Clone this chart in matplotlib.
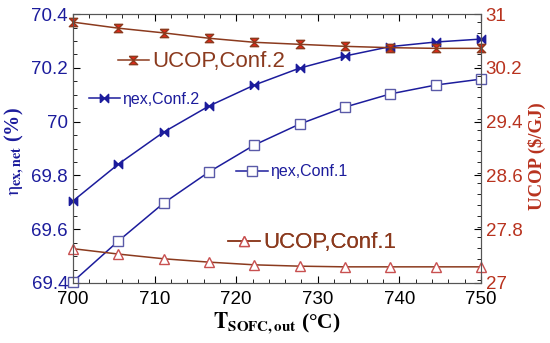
import matplotlib
matplotlib.use("Agg")
import matplotlib.pyplot as plt
from matplotlib.ticker import MultipleLocator

plt.rcParams['font.family'] = ['Liberation Sans', 'DejaVu Sans']
plt.rcParams['mathtext.fontset'] = 'stix'

# data
t_sofc = [700, 705.56, 711.11, 716.67, 722.22, 727.78, 733.33, 738.89, 744.44, 750]
eta_conf2 = [69.705, 69.842, 69.961, 70.058, 70.136, 70.199, 70.244, 70.279, 70.296, 70.307]
eta_conf1 = [69.405, 69.556, 69.697, 69.813, 69.913, 69.991, 70.054, 70.103, 70.136, 70.158]
ucop_conf2 = [30.88, 30.79, 30.72, 30.64, 30.58, 30.55, 30.52, 30.50, 30.49, 30.49]
ucop_conf1 = [27.51, 27.43, 27.36, 27.31, 27.27, 27.25, 27.24, 27.24, 27.24, 27.24]

blue = '#1c1c9c'
brown = '#8b3a1e'
red_txt = '#b8321e'

bowtie = [(-1, -1), (-1, 1), (0, 0), (1, 1), (1, -1), (0, 0), (-1, -1)]
hourglass = [(-1, 1), (1, 1), (0, 0), (1, -1), (-1, -1), (0, 0), (-1, 1)]

fig = plt.figure(figsize=(5.5, 3.43), dpi=100)
ax = fig.add_axes([0.1327, 0.175, 0.7418, 0.784])
ax2 = ax.twinx()

l_e2, = ax.plot(t_sofc, eta_conf2, color=blue, lw=1.1, marker=bowtie, ms=6,
                mfc=blue, mec=blue, clip_on=False)
l_e1, = ax.plot(t_sofc, eta_conf1, color=blue, lw=1.1, marker='s', ms=6.5,
                mfc='white', mec='#5a5aa8', mew=1.0, clip_on=False)
l_u2, = ax2.plot(t_sofc, ucop_conf2, color=brown, lw=1.1, marker=hourglass, ms=6,
                 mfc='#e02818', mec=brown, clip_on=False)
l_u1, = ax2.plot(t_sofc, ucop_conf1, color=brown, lw=1.1, marker='^', ms=6.5,
                 mfc='white', mec='#c85050', mew=1.0, clip_on=False)

ax.set_xlim(700, 750)
ax.set_ylim(69.4, 70.4)
ax2.set_ylim(27, 31)

ax.xaxis.set_major_locator(MultipleLocator(10))
ax.xaxis.set_minor_locator(MultipleLocator(2))
ax.yaxis.set_minor_locator(MultipleLocator(0.05))
ax2.yaxis.set_minor_locator(MultipleLocator(0.16))
ax.set_yticks([69.4, 69.6, 69.8, 70, 70.2, 70.4])
ax.set_yticklabels(['69.4', '69.6', '69.8', '70', '70.2', '70.4'])
ax2.set_yticks([27, 27.8, 28.6, 29.4, 30.2, 31])
ax2.set_yticklabels(['27', '27.8', '28.6', '29.4', '30.2', '31'])

ax.tick_params(axis='x', which='both', direction='in', top=True, labelsize=13.5, pad=6)
ax.tick_params(axis='x', which='major', length=5)
ax.tick_params(axis='x', which='minor', length=3)
ax.tick_params(axis='y', which='both', direction='in', labelsize=13.5, labelcolor=blue)
ax.tick_params(axis='y', which='major', length=5)
ax.tick_params(axis='y', which='minor', length=3)
ax2.tick_params(axis='y', which='both', direction='in', labelsize=13.5, labelcolor=red_txt)
ax2.tick_params(axis='y', which='major', length=5)
ax2.tick_params(axis='y', which='minor', length=3)

for a in (ax, ax2):
    for s in a.spines.values():
        s.set_color('#555555')
        s.set_linewidth(0.8)

ax.set_xlabel(r'$\mathbf{T_{SOFC,out}}$ (°C)', fontsize=15.5, fontweight='bold',
              family='Liberation Serif', labelpad=2)
ax.set_ylabel(r'$\mathrm{\eta}_{\mathbf{ex,net}}$ (%)', fontsize=14.5, fontweight='bold',
              family='Liberation Serif', color=blue)
ax.yaxis.set_label_coords(-0.112, 0.49)
ax2.set_ylabel('UCOP ($/GJ)', fontsize=13.5, fontweight='bold',
               family='Liberation Serif', color=red_txt)
ax2.yaxis.set_label_coords(1.115, 0.47)

# inline legends next to the curves
def tag(line, text, x, y, color, size, hl):
    leg = ax2.legend([line], [text], loc='center left', bbox_to_anchor=(x, y),
                     frameon=False, borderpad=0, borderaxespad=0,
                     handlelength=hl, handletextpad=0.15, fontsize=size,
                     labelcolor=color)
    ax2.add_artist(leg)

tag(l_u2, 'UCOP,Conf.2', 0.11, 0.822, brown, 16, 1.4)
tag(l_e2, 'ηex,Conf.2', 0.04, 0.684, blue, 11.5, 1.9)
tag(l_e1, 'ηex,Conf.1', 0.40, 0.413, blue, 11.5, 2.0)
tag(l_u1, 'UCOP,Conf.1', 0.38, 0.149, brown, 16, 1.45)

fig.savefig('out.png', dpi=100)
